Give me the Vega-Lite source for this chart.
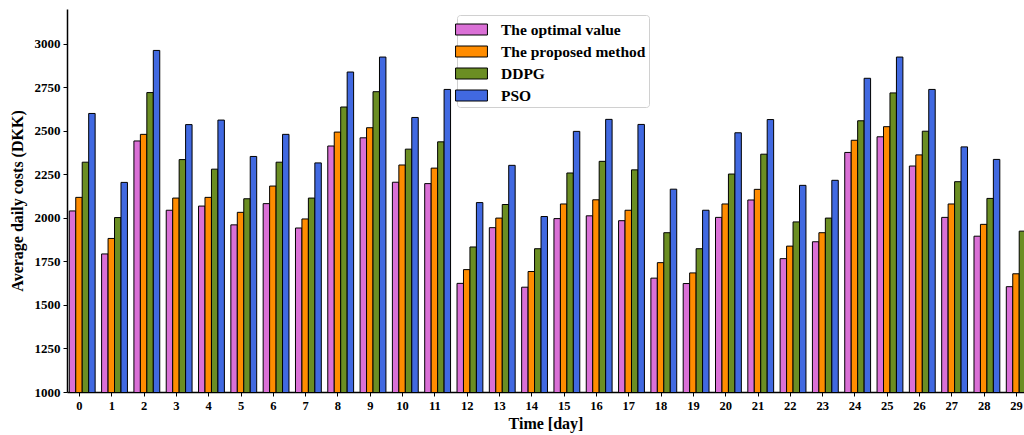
{
  "$schema": "https://vega.github.io/schema/vega-lite/v6.json",
  "width": 957,
  "height": 383,
  "autosize": {"type": "none"},
  "padding": {"left": 67, "top": 9, "right": 0, "bottom": 43},
  "background": "white",
  "config": {
    "view": {"stroke": null},
    "font": "Liberation Serif",
    "axis": {"grid": false, "domainColor": "black", "domainWidth": 1.5, "tickColor": "black", "tickSize": 4, "tickWidth": 1, "labelColor": "black", "labelFont": "Liberation Serif", "labelFontWeight": "bold", "labelFontSize": 12.5, "titleFont": "Liberation Serif", "titleFontWeight": "bold", "titleColor": "black"}
  },
  "datasets": {
    "costs": [
      {"day": 0, "method": "The optimal value", "cost": 2040}, {"day": 0, "method": "The proposed method", "cost": 2118}, {"day": 0, "method": "DDPG", "cost": 2320}, {"day": 0, "method": "PSO", "cost": 2600},
      {"day": 1, "method": "The optimal value", "cost": 1793}, {"day": 1, "method": "The proposed method", "cost": 1882}, {"day": 1, "method": "DDPG", "cost": 2002}, {"day": 1, "method": "PSO", "cost": 2204},
      {"day": 2, "method": "The optimal value", "cost": 2442}, {"day": 2, "method": "The proposed method", "cost": 2480}, {"day": 2, "method": "DDPG", "cost": 2720}, {"day": 2, "method": "PSO", "cost": 2962},
      {"day": 3, "method": "The optimal value", "cost": 2044}, {"day": 3, "method": "The proposed method", "cost": 2114}, {"day": 3, "method": "DDPG", "cost": 2335}, {"day": 3, "method": "PSO", "cost": 2536},
      {"day": 4, "method": "The optimal value", "cost": 2068}, {"day": 4, "method": "The proposed method", "cost": 2118}, {"day": 4, "method": "DDPG", "cost": 2280}, {"day": 4, "method": "PSO", "cost": 2562},
      {"day": 5, "method": "The optimal value", "cost": 1960}, {"day": 5, "method": "The proposed method", "cost": 2032}, {"day": 5, "method": "DDPG", "cost": 2110}, {"day": 5, "method": "PSO", "cost": 2353},
      {"day": 6, "method": "The optimal value", "cost": 2082}, {"day": 6, "method": "The proposed method", "cost": 2183}, {"day": 6, "method": "DDPG", "cost": 2320}, {"day": 6, "method": "PSO", "cost": 2480},
      {"day": 7, "method": "The optimal value", "cost": 1942}, {"day": 7, "method": "The proposed method", "cost": 1994}, {"day": 7, "method": "DDPG", "cost": 2114}, {"day": 7, "method": "PSO", "cost": 2316},
      {"day": 8, "method": "The optimal value", "cost": 2413}, {"day": 8, "method": "The proposed method", "cost": 2493}, {"day": 8, "method": "DDPG", "cost": 2637}, {"day": 8, "method": "PSO", "cost": 2838},
      {"day": 9, "method": "The optimal value", "cost": 2460}, {"day": 9, "method": "The proposed method", "cost": 2518}, {"day": 9, "method": "DDPG", "cost": 2725}, {"day": 9, "method": "PSO", "cost": 2924},
      {"day": 10, "method": "The optimal value", "cost": 2205}, {"day": 10, "method": "The proposed method", "cost": 2304}, {"day": 10, "method": "DDPG", "cost": 2395}, {"day": 10, "method": "PSO", "cost": 2577},
      {"day": 11, "method": "The optimal value", "cost": 2197}, {"day": 11, "method": "The proposed method", "cost": 2286}, {"day": 11, "method": "DDPG", "cost": 2437}, {"day": 11, "method": "PSO", "cost": 2738},
      {"day": 12, "method": "The optimal value", "cost": 1624}, {"day": 12, "method": "The proposed method", "cost": 1703}, {"day": 12, "method": "DDPG", "cost": 1833}, {"day": 12, "method": "PSO", "cost": 2088},
      {"day": 13, "method": "The optimal value", "cost": 1944}, {"day": 13, "method": "The proposed method", "cost": 1999}, {"day": 13, "method": "DDPG", "cost": 2077}, {"day": 13, "method": "PSO", "cost": 2302},
      {"day": 14, "method": "The optimal value", "cost": 1602}, {"day": 14, "method": "The proposed method", "cost": 1692}, {"day": 14, "method": "DDPG", "cost": 1823}, {"day": 14, "method": "PSO", "cost": 2008},
      {"day": 15, "method": "The optimal value", "cost": 1996}, {"day": 15, "method": "The proposed method", "cost": 2080}, {"day": 15, "method": "DDPG", "cost": 2258}, {"day": 15, "method": "PSO", "cost": 2497},
      {"day": 16, "method": "The optimal value", "cost": 2012}, {"day": 16, "method": "The proposed method", "cost": 2104}, {"day": 16, "method": "DDPG", "cost": 2325}, {"day": 16, "method": "PSO", "cost": 2566},
      {"day": 17, "method": "The optimal value", "cost": 1984}, {"day": 17, "method": "The proposed method", "cost": 2044}, {"day": 17, "method": "DDPG", "cost": 2276}, {"day": 17, "method": "PSO", "cost": 2537},
      {"day": 18, "method": "The optimal value", "cost": 1654}, {"day": 18, "method": "The proposed method", "cost": 1743}, {"day": 18, "method": "DDPG", "cost": 1915}, {"day": 18, "method": "PSO", "cost": 2165},
      {"day": 19, "method": "The optimal value", "cost": 1623}, {"day": 19, "method": "The proposed method", "cost": 1684}, {"day": 19, "method": "DDPG", "cost": 1823}, {"day": 19, "method": "PSO", "cost": 2044},
      {"day": 20, "method": "The optimal value", "cost": 2003}, {"day": 20, "method": "The proposed method", "cost": 2080}, {"day": 20, "method": "DDPG", "cost": 2252}, {"day": 20, "method": "PSO", "cost": 2489},
      {"day": 21, "method": "The optimal value", "cost": 2103}, {"day": 21, "method": "The proposed method", "cost": 2164}, {"day": 21, "method": "DDPG", "cost": 2366}, {"day": 21, "method": "PSO", "cost": 2565},
      {"day": 22, "method": "The optimal value", "cost": 1766}, {"day": 22, "method": "The proposed method", "cost": 1838}, {"day": 22, "method": "DDPG", "cost": 1977}, {"day": 22, "method": "PSO", "cost": 2187},
      {"day": 23, "method": "The optimal value", "cost": 1863}, {"day": 23, "method": "The proposed method", "cost": 1915}, {"day": 23, "method": "DDPG", "cost": 1999}, {"day": 23, "method": "PSO", "cost": 2216},
      {"day": 24, "method": "The optimal value", "cost": 2376}, {"day": 24, "method": "The proposed method", "cost": 2446}, {"day": 24, "method": "DDPG", "cost": 2558}, {"day": 24, "method": "PSO", "cost": 2802},
      {"day": 25, "method": "The optimal value", "cost": 2466}, {"day": 25, "method": "The proposed method", "cost": 2524}, {"day": 25, "method": "DDPG", "cost": 2718}, {"day": 25, "method": "PSO", "cost": 2924},
      {"day": 26, "method": "The optimal value", "cost": 2298}, {"day": 26, "method": "The proposed method", "cost": 2362}, {"day": 26, "method": "DDPG", "cost": 2498}, {"day": 26, "method": "PSO", "cost": 2738},
      {"day": 27, "method": "The optimal value", "cost": 2003}, {"day": 27, "method": "The proposed method", "cost": 2080}, {"day": 27, "method": "DDPG", "cost": 2208}, {"day": 27, "method": "PSO", "cost": 2408},
      {"day": 28, "method": "The optimal value", "cost": 1895}, {"day": 28, "method": "The proposed method", "cost": 1963}, {"day": 28, "method": "DDPG", "cost": 2112}, {"day": 28, "method": "PSO", "cost": 2336},
      {"day": 29, "method": "The optimal value", "cost": 1605}, {"day": 29, "method": "The proposed method", "cost": 1679}, {"day": 29, "method": "DDPG", "cost": 1924}, {"day": 29, "method": "PSO", "cost": 2130}
    ]
  },
  "data": {"name": "costs"},
  "encoding": {
    "x": {"field": "day", "type": "quantitative", "scale": {"domain": [-0.371, 29.248], "nice": false, "zero": false, "padding": 0},
      "axis": {"values": [0,1,2,3,4,5,6,7,8,9,10,11,12,13,14,15,16,17,18,19,20,21,22,23,24,25,26,27,28,29], "title": "Time [day]", "titleFontSize": 16, "titlePadding": 4, "labelPadding": 3, "labelFlush": false}},
    "y": {"field": "cost", "type": "quantitative", "scale": {"domain": [1000, 3200], "nice": false, "zero": false, "padding": 0},
      "axis": {"values": [1000,1250,1500,1750,2000,2250,2500,2750,3000], "format": "d", "title": "Average daily costs (DKK)", "titleFontSize": 16, "titlePadding": 9, "labelPadding": 3, "labelFontSize": 13}},
    "color": {"field": "method", "type": "nominal",
      "scale": {"domain": ["The optimal value", "The proposed method", "DDPG", "PSO"], "range": ["#DA70D6", "#FF8C00", "#6B8E23", "#4169E1"]},
      "legend": {"title": null, "orient": "none", "legendX": 390, "legendY": 6, "fillColor": "white", "strokeColor": "#d0d0d0", "cornerRadius": 3, "padding": 3,
        "symbolType": "M-1.45,-0.5L1.45,-0.5L1.45,0.5L-1.45,0.5Z", "symbolSize": 484, "symbolStrokeColor": "black", "symbolStrokeWidth": 1, "symbolOpacity": 1,
        "labelFont": "Liberation Serif", "labelFontWeight": "bold", "labelFontSize": 15.5, "labelColor": "black", "labelOffset": 18, "rowPadding": 2, "labelLimit": 400}}
  },
  "layer": [
    {"transform": [{"filter": "datum.method === 'The optimal value'"}], "mark": {"type": "bar", "width": 6.46, "xOffset": -6.46, "stroke": "black", "strokeWidth": 1, "clip": true, "opacity": 1}},
    {"transform": [{"filter": "datum.method === 'The proposed method'"}], "mark": {"type": "bar", "width": 6.46, "xOffset": 0, "stroke": "black", "strokeWidth": 1, "clip": true, "opacity": 1}},
    {"transform": [{"filter": "datum.method === 'DDPG'"}], "mark": {"type": "bar", "width": 6.46, "xOffset": 6.46, "stroke": "black", "strokeWidth": 1, "clip": true, "opacity": 1}},
    {"transform": [{"filter": "datum.method === 'PSO'"}], "mark": {"type": "bar", "width": 6.46, "xOffset": 12.92, "stroke": "black", "strokeWidth": 1, "clip": true, "opacity": 1}},
    {"data": {"values": [{}]}, "mark": {"type": "rule", "color": "black", "strokeWidth": 1.5}, "encoding": {"y": {"datum": 3200}, "x": null, "color": null}}
  ]
}
